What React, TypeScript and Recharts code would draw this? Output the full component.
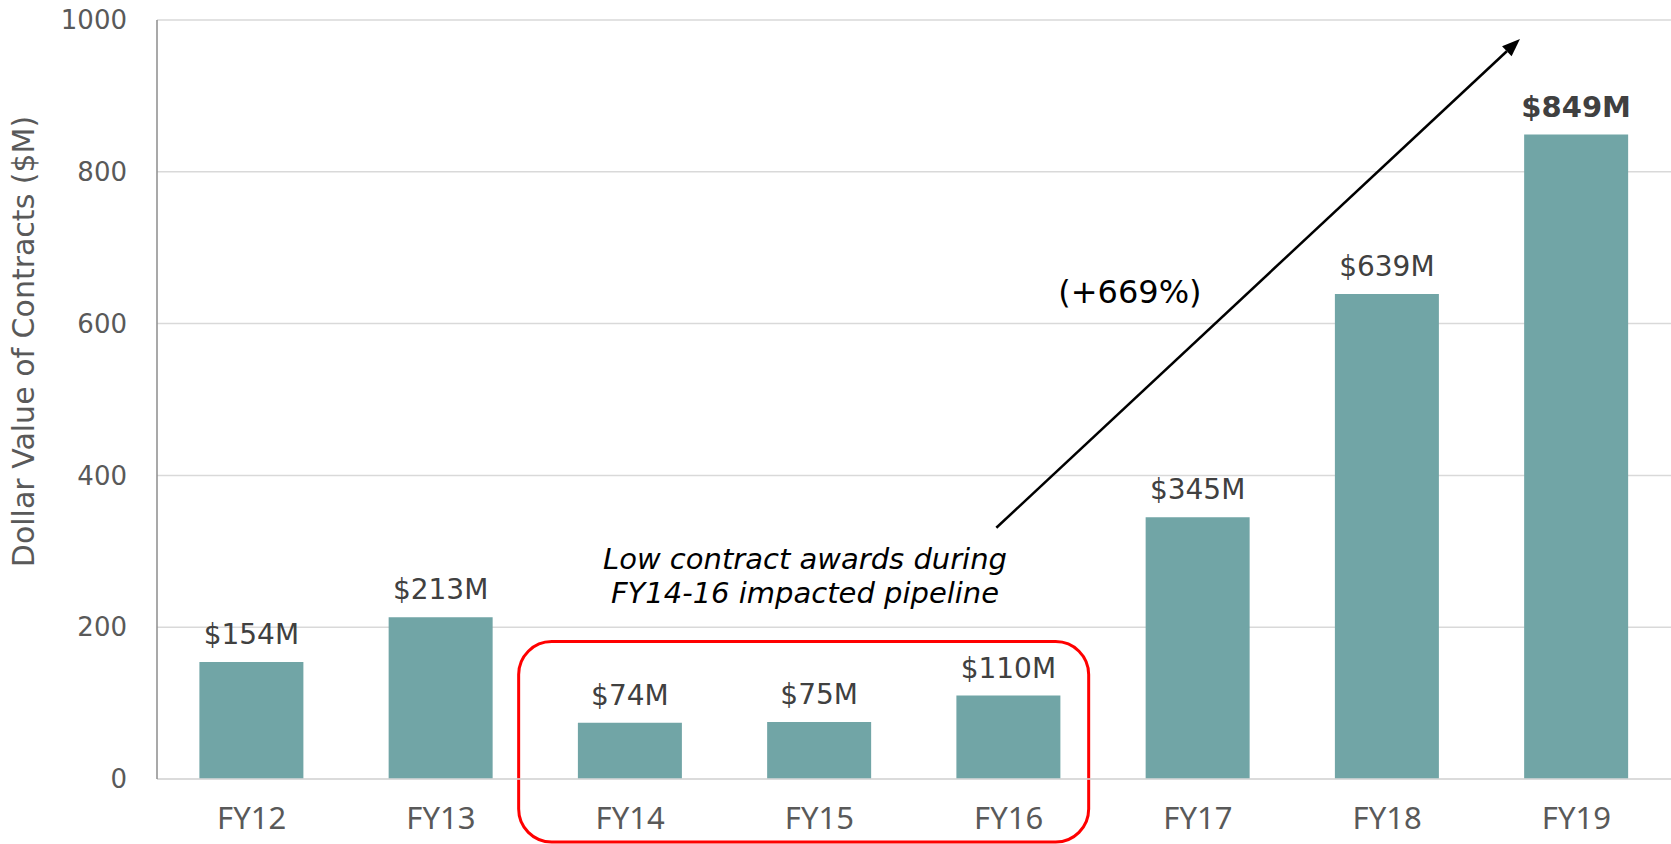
import React from 'react'
import { BarChart, Bar, XAxis, YAxis, CartesianGrid, LabelList, ReferenceArea, ReferenceLine, ReferenceDot } from 'recharts'

// chart values
const fiscalYears = ['FY12', 'FY13', 'FY14', 'FY15', 'FY16', 'FY17', 'FY18', 'FY19']
const contractValues = [154, 213, 74, 75, 110, 345, 639, 849]
const yTicks = [0, 200, 400, 600, 800, 1000]

// annotations, in data units of a hidden 0..8 band-position axis
const lowYearsBox = { x1: 1.911, x2: 4.923, y1: -83, y2: 181 }
const growthArrow = [{ x: 4.435, y: 331 }, { x: 7.202, y: 975 }]
const growthLabel = { x: 5.141, y: 627, text: '(+669%)' }
const noteAnchor = { x: 3.424, y: 277 }
const noteLines = ['Low contract awards during', 'FY14-16 impacted pipeline']

// slot = centre of each category band on the hidden position axis
const data = fiscalYears.map((year, i) => ({ year, value: contractValues[i], slot: i + 0.5 }))

const BAR = '#71A5A6'
const GRID = '#D9D9D9'
const TICK_TEXT = '#595959'
const LABEL_TEXT = '#404040'

function ArrowShape(props: any) {
  const { x1, y1, x2, y2 } = props
  const ang = Math.atan2(y2 - y1, x2 - x1)
  const len = 18
  const half = 7
  const bx = x2 - len * Math.cos(ang)
  const by = y2 - len * Math.sin(ang)
  const px = -Math.sin(ang) * half
  const py = Math.cos(ang) * half
  return (
    <g>
      <line x1={x1} y1={y1} x2={bx} y2={by} stroke="#000" strokeWidth={2.5} />
      <polygon points={`${x2},${y2} ${bx + px},${by + py} ${bx - px},${by - py}`} fill="#000" />
    </g>
  )
}

function RoundedBox(props: any) {
  const { x, y, width, height } = props
  return <rect x={x} y={y} width={width} height={height} rx={33} ry={33} fill="none" stroke="#FF0000" strokeWidth={3} />
}

function BarValueLabel(props: any) {
  const { x, y, width, value, index } = props
  const isLast = index === data.length - 1
  return (
    <text
      x={x + width / 2}
      y={y - 18}
      textAnchor="middle"
      fill={LABEL_TEXT}
      fontFamily="DejaVu Sans"
      fontSize={isLast ? 29 : 28}
      fontWeight={isLast ? 'bold' : 'normal'}
    >
      {`$${value}M`}
    </text>
  )
}

function YTitle(props: any) {
  const vb = props.viewBox || { x: 0, y: 20, width: 157, height: 759 }
  const cx = vb.x + 34
  const cy = vb.y + vb.height / 2 - 58
  return (
    <text
      x={cx}
      y={cy}
      transform={`rotate(-90, ${cx}, ${cy})`}
      textAnchor="middle"
      fill={TICK_TEXT}
      fontFamily="DejaVu Sans"
      fontSize={30}
    >
      Dollar Value of Contracts ($M)
    </text>
  )
}

export default function App() {
  return (
    <div style={{ width: 1671, height: 844, background: '#fff' }}>
      <style>{'body{margin:0;overflow:hidden}'}</style>
      <BarChart
        width={1671}
        height={844}
        data={data}
        margin={{ top: 20, right: 0, bottom: 35, left: 0 }}
        barCategoryGap="22.4%"
      >
        <CartesianGrid vertical={false} stroke={GRID} strokeWidth={1.5} />
        <XAxis
          dataKey="year"
          height={30}
          tickLine={false}
          tickSize={6}
          tickMargin={22}
          axisLine={{ stroke: GRID, strokeWidth: 1.5 }}
          tick={{ fill: TICK_TEXT, fontSize: 31, fontFamily: 'Noto Sans' }}
          interval={0}
        />
        <XAxis xAxisId="num" dataKey="slot" type="number" domain={[0, 8]} allowDataOverflow hide />
        <YAxis
          width={157}
          domain={[0, 1000]}
          ticks={yTicks}
          tickLine={false}
          tickSize={6}
          tickMargin={24}
          axisLine={{ stroke: '#8C8C8C', strokeWidth: 1.5 }}
          tick={{ fill: TICK_TEXT, fontSize: 26, fontFamily: 'DejaVu Sans' }}
          label={<YTitle />}
        />
        <Bar dataKey="value" fill={BAR} isAnimationActive={false}>
          <LabelList dataKey="value" content={<BarValueLabel />} />
        </Bar>
        <ReferenceArea
          xAxisId="num"
          x1={lowYearsBox.x1}
          x2={lowYearsBox.x2}
          y1={lowYearsBox.y1}
          y2={lowYearsBox.y2}
          ifOverflow="visible"
          shape={<RoundedBox />}
        />
        <ReferenceLine xAxisId="num" segment={growthArrow} ifOverflow="visible" shape={<ArrowShape />} />
        <ReferenceDot
          xAxisId="num"
          x={growthLabel.x}
          y={growthLabel.y}
          r={0}
          ifOverflow="visible"
          shape={(p: any) => (
            <text x={p.cx} y={p.cy} textAnchor="middle" fill="#000" fontFamily="DejaVu Sans" fontSize={32}>
              {growthLabel.text}
            </text>
          )}
        />
        <ReferenceDot
          xAxisId="num"
          x={noteAnchor.x}
          y={noteAnchor.y}
          r={0}
          ifOverflow="visible"
          shape={(p: any) => (
            <text x={p.cx} y={p.cy} textAnchor="middle" fill="#000" fontFamily="DejaVu Sans" fontStyle="italic" fontSize={29}>
              {noteLines.map((line, i) => (
                <tspan key={line} x={p.cx} dy={i === 0 ? 0 : 34}>
                  {line}
                </tspan>
              ))}
            </text>
          )}
        />
      </BarChart>
    </div>
  )
}
